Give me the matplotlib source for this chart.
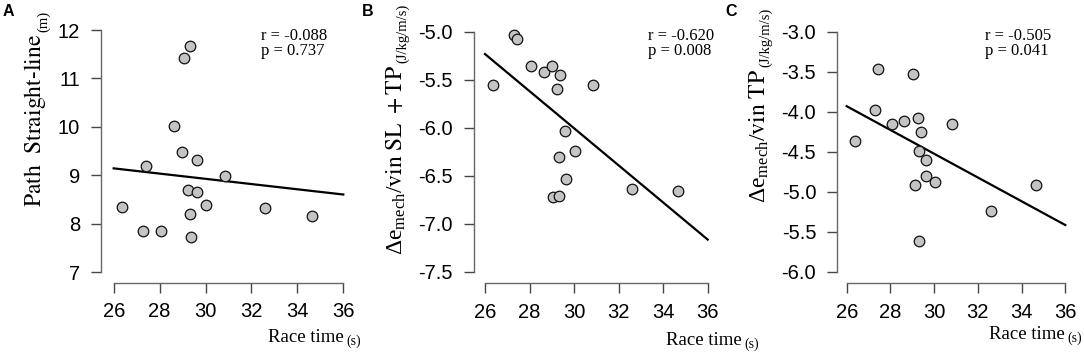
import numpy as np
import matplotlib
matplotlib.use("Agg")
import matplotlib.pyplot as plt

plt.rcParams['font.family'] = ['Liberation Sans', 'DejaVu Sans']
plt.rcParams['mathtext.fontset'] = 'stix'
plt.rcParams['mathtext.default'] = 'regular'

# race time (s), same athletes in every panel
time_a = [26.36, 27.41, 27.29, 28.06, 28.61, 28.99, 29.05, 29.32, 29.22,
          29.31, 29.37, 29.61, 29.61, 30.03, 30.83, 32.60, 34.62]
path_a = [8.35, 9.19, 7.85, 7.85, 10.01, 9.47, 11.43, 11.66, 8.69,
          8.19, 7.72, 9.32, 8.66, 8.39, 8.99, 8.32, 8.16]

time_b = [26.34, 27.30, 27.44, 28.07, 28.63, 29.01, 29.38, 29.23, 30.84,
          29.59, 30.06, 29.31, 29.62, 29.05, 29.31, 32.60, 34.65]
emech_b = [-5.55, -5.03, -5.08, -5.36, -5.42, -5.36, -5.45, -5.60, -5.56,
           -6.03, -6.24, -6.31, -6.53, -6.72, -6.71, -6.64, -6.66]

time_c = [26.37, 27.43, 27.31, 28.09, 28.64, 29.02, 29.26, 29.40, 29.31,
          29.63, 29.63, 29.11, 30.05, 30.82, 32.62, 34.67, 29.32]
emech_c = [-4.36, -3.47, -3.98, -4.15, -4.11, -3.53, -4.08, -4.25, -4.49,
           -4.60, -4.81, -4.91, -4.88, -4.15, -5.24, -4.92, -5.62]

x_ticks = [26, 28, 30, 32, 34, 36]
y_ticks_a = [7, 8, 9, 10, 11, 12]
y_ticks_b = [-7.5, -7.0, -6.5, -6.0, -5.5, -5.0]
y_ticks_c = [-6.0, -5.5, -5.0, -4.5, -4.0, -3.5, -3.0]

stats_a = "r = -0.088\np = 0.737"
stats_b = "r = -0.620\np = 0.008"
stats_c = "r = -0.505\np = 0.041"

W, H = 1084, 354
fig = plt.figure(figsize=(W / 100, H / 100), dpi=100)
renderer = fig.canvas.get_renderer()
SERIF = 'Liberation Serif'


def ylabel_unit(x, y0, main, unit):
    t = fig.text(x / W, 1 - y0 / H, main, rotation=90, family=SERIF,
                 fontsize=17, ha='center', va='bottom')
    bb = t.get_window_extent(renderer)
    fig.text((bb.x1 + 2) / W, (bb.y1 + 2) / H, unit, rotation=90, family=SERIF,
             fontsize=10.5, ha='right', va='bottom')


def xlabel_unit(x1, ybase):
    u = fig.text(x1 / W, 1 - (ybase + 3) / H, '(s)', family=SERIF, fontsize=10,
                 ha='right', va='baseline')
    bb = u.get_window_extent(renderer)
    fig.text((bb.x0 - 3) / W, 1 - ybase / H, 'Race time', family=SERIF,
             fontsize=13.5, ha='right', va='baseline')


def panel(x, y, yticks, fmt, px, stats, stats_xy, letter, letter_x):
    # px: y-axis line x, first/last x tick px, x-axis line y, first/last y tick px
    left, xt0, xt1, bottom, yt0, yt1 = px
    sx = (xt1 - xt0) / (x_ticks[-1] - x_ticks[0])
    sy = (yt0 - yt1) / (yticks[-1] - yticks[0])
    right = xt1 + 12
    top = yt1 - 15
    ax = fig.add_axes([left / W, 1 - bottom / H, (right - left) / W, (bottom - top) / H])
    ax.set_xlim(x_ticks[0] - (xt0 - left) / sx, x_ticks[-1] + (right - xt1) / sx)
    ax.set_ylim(yticks[0] - (bottom - yt0) / sy, yticks[-1] + (yt1 - top) / sy)
    ax.patch.set_alpha(0)

    ax.scatter(x, y, s=58, facecolor='#c4c4c4', edgecolor='#111111',
               linewidth=0.9, zorder=3)
    k, b = np.polyfit(x, y, 1)
    xs = np.array([x_ticks[0], x_ticks[-1]])
    ax.plot(xs, k * xs + b, color='black', lw=1.6, zorder=2)

    for s in ['top', 'right']:
        ax.spines[s].set_visible(False)
    for s in ['left', 'bottom']:
        ax.spines[s].set_color('#666666')
        ax.spines[s].set_linewidth(1.0)
    ax.spines['left'].set_bounds(yticks[0], yticks[-1])
    ax.spines['bottom'].set_bounds(x_ticks[0], x_ticks[-1])
    ax.set_xticks(x_ticks)
    ax.set_yticks(yticks)
    ax.set_yticklabels([fmt.format(v) for v in yticks])
    ax.tick_params(length=7, width=1.0, color='#444444', labelsize=14.5, pad=7)
    ax.tick_params(axis='y', pad=8)

    fig.text(stats_xy[0] / W, 1 - stats_xy[1] / H, stats, family=SERIF,
             fontsize=12, va='top', ha='left', linespacing=0.95)
    fig.text(letter_x / W, 1 - 4 / H, letter, fontsize=11.5, fontweight='bold',
             va='top', ha='left')
    return ax


panel(time_a, path_a, y_ticks_a, '{:.0f}', (101, 113.7, 343.3, 283, 272, 30),
      stats_a, (261, 28), 'A', 3)
ylabel_unit(35, 207, r'$\mathrm{Path\ \ Straight\text{-}line}$', '(m)')
xlabel_unit(361, 342)

panel(time_b, emech_b, y_ticks_b, '{:.1f}', (473.7, 485, 707.7, 283.3, 271.7, 31.7),
      stats_b, (648, 28), 'B', 362)
ylabel_unit(396, 255, r'$\Delta e_{mech}/\mathrm{vin\ SL\ +TP}$', '(J/kg/m/s)')
xlabel_unit(759, 345)

panel(time_c, emech_c, y_ticks_c, '{:.1f}', (837, 846.7, 1065.3, 283.3, 271.7, 31.7),
      stats_c, (985, 28), 'C', 725)
ylabel_unit(759, 203, r'$\Delta e_{mech}/\mathrm{vin\ TP}$', '(J/kg/m/s)')
xlabel_unit(1082, 339)

fig.savefig('out.png', dpi=100)
